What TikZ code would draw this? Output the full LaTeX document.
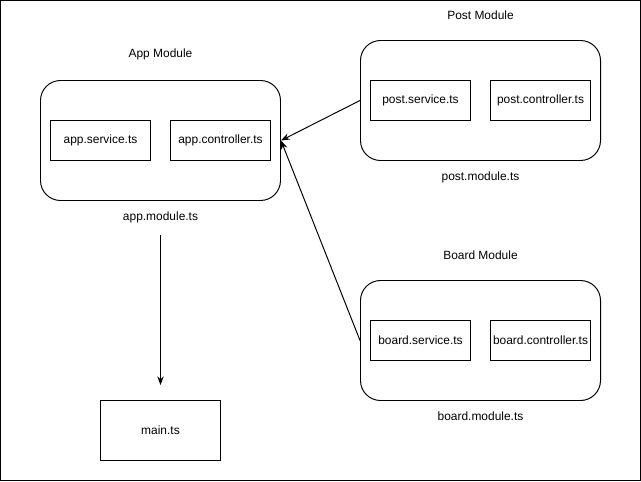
\documentclass[tikz,border=0pt]{standalone}
\usepackage{fontspec}
\setmainfont{Liberation Sans}
\usepackage{tikz}
\usetikzlibrary{arrows.meta, positioning}

\begin{document}
\begin{tikzpicture}[>=Stealth, font=\fontsize{8.5}{10}\selectfont]
    \tikzstyle{module} = [rectangle, draw, rounded corners=0.5cm, line width=0.7pt, minimum width=6cm, minimum height=3cm]
    \tikzstyle{file} = [rectangle, draw, line width=0.7pt, minimum width=2.5cm, minimum height=1cm, inner sep=0pt, text centered]
    \tikzstyle{caption} = [inner sep=0pt, text centered]

    \useasboundingbox (-0.0125,-0.0125) rectangle (16.0125,12.0125);
    \draw [line width=0.7pt] (0,0) rectangle (16,12);

    \node [module] (app) at (4,8.5) {};
    \node [file, right=0.25cm of app.west] (appsvc) {app.service.ts};
    \node [file, left=0.25cm of app.east] (appctl) {app.controller.ts};
    \node [caption, above=0.5cm of app] (apptitle) {App Module};
    \node [caption, below=0.27cm of app] (appfile) {app.module.ts};

    \node [module] (post) at (12,9.5) {};
    \node [file, right=0.25cm of post.west] (postsvc) {post.service.ts};
    \node [file, left=0.25cm of post.east] (postctl) {post.controller.ts};
    \node [caption, above=0.5cm of post] (posttitle) {Post Module};
    \node [caption, below=0.27cm of post] (postfile) {post.module.ts};

    \node [module] (board) at (12,3.5) {};
    \node [file, right=0.25cm of board.west] (boardsvc) {board.service.ts};
    \node [file, left=0.25cm of board.east] (boardctl) {board.controller.ts};
    \node [caption, above=0.5cm of board] (boardtitle) {Board Module};
    \node [caption, below=0.27cm of board] (boardfile) {board.module.ts};

    \node [file, minimum width=3cm, minimum height=1.5cm] (main) at (4,1.25) {main.ts};

    \path [draw, ->, line width=0.7pt, shorten <=0.3cm, shorten >=0.375cm] (appfile) -- (main);
    \path [draw, ->, line width=0.7pt] (post.west) -- (app.east);
    \path [draw, ->, line width=0.7pt] (board.west) -- (app.east);
\end{tikzpicture}
\end{document}
